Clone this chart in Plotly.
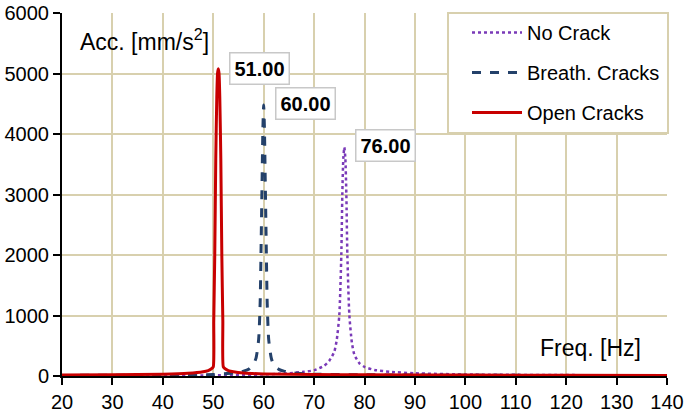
import plotly.graph_objects as go

# ---- data ----
freq_open = [20, 30, 40, 45, 48, 49, 49.5, 50, 50.1, 50.3, 50.5, 50.7, 50.85, 51, 51.15, 51.3, 51.5, 51.7, 51.9, 52, 52.5, 53, 54, 56, 60, 70, 80, 100, 120, 140]
acc_open = [15, 20, 30, 45, 70, 90, 110, 150, 900, 2000, 3600, 4600, 5000, 5080, 5000, 4600, 3600, 2000, 900, 150, 110, 90, 70, 50, 35, 25, 20, 15, 12, 10]

freq_breath = [20, 40, 50, 54, 56, 57, 58, 58.5, 59, 59.3, 59.5, 59.7, 59.85, 60, 60.15, 60.3, 60.5, 60.7, 61, 61.5, 62, 63, 64, 66, 70, 80, 100, 140]
acc_breath = [10, 15, 25, 50, 80, 110, 200, 300, 600, 1200, 2200, 3300, 4100, 4480, 4100, 3300, 2200, 1200, 600, 300, 180, 110, 80, 50, 30, 20, 12, 8]

freq_none = [20, 50, 60, 65, 68, 70, 72, 73, 74, 74.5, 75, 75.4, 75.6, 75.8, 76, 76.2, 76.4, 76.6, 77, 77.5, 78, 79, 80, 82, 85, 90, 100, 120, 140]
acc_none = [5, 10, 25, 45, 70, 95, 170, 250, 400, 600, 1000, 2000, 3000, 3600, 3780, 3600, 3000, 2000, 1000, 550, 350, 210, 150, 100, 70, 45, 25, 15, 10]

peak_labels = ["51.00", "60.00", "76.00"]
label_x = [53.2, 62.2, 78.2]
label_y = [5090, 4496, 3802]

x_ticks = list(range(20, 141, 10))
y_ticks = list(range(0, 6001, 1000))

GRID = "#d8d0ae"
FONT = "Arial, Liberation Sans, sans-serif"

fig = go.Figure()
fig.add_trace(go.Scatter(x=freq_none, y=acc_none, mode="lines", name="No Crack",
                         line=dict(color="#7a3ab8", width=2.5, dash="dot", shape="spline", smoothing=0.6),
                         legendgroup="a"))
fig.add_trace(go.Scatter(x=freq_breath, y=acc_breath, mode="lines", name="Breath. Cracks",
                         line=dict(color="#24416a", width=3, dash="dash", shape="spline", smoothing=0.6),
                         legendgroup="b"))
fig.add_trace(go.Scatter(x=freq_open, y=acc_open, mode="lines", name="Open Cracks",
                         line=dict(color="#c80000", width=3, shape="spline", smoothing=0.5),
                         legendgroup="c"))

for t, xx, yy in zip(peak_labels, label_x, label_y):
    fig.add_annotation(x=xx, y=yy, xref="x", yref="y", text="<b>%s</b>" % t,
                       showarrow=False, xanchor="left", yanchor="middle",
                       font=dict(family=FONT, size=20, color="black"),
                       bgcolor="white", bordercolor="#c8c8c8", borderwidth=1.5,
                       borderpad=4)

fig.add_annotation(x=(78 - 62) / 605, y=(376 - 40) / 363, xref="paper", yref="paper",
                   text="Acc. [mm/s<sup>2</sup>]", showarrow=False,
                   xanchor="left", yanchor="middle",
                   font=dict(family=FONT, size=23, color="black"))
fig.add_annotation(x=(643 - 62) / 605, y=(376 - 348) / 363, xref="paper", yref="paper",
                   text="Freq. [Hz]", showarrow=False,
                   xanchor="right", yanchor="middle",
                   font=dict(family=FONT, size=23, color="black"))

# legend frame
fig.add_shape(type="rect", xref="paper", yref="paper",
              x0=(448 - 62) / 605, x1=(668 - 62) / 605,
              y0=(376 - 133) / 363, y1=(376 - 13) / 363,
              fillcolor="white", line=dict(color=GRID, width=2), layer="above")

fig.update_layout(
    width=685, height=413,
    margin=dict(l=62, r=18, t=13, b=37, autoexpand=False),
    plot_bgcolor="white", paper_bgcolor="white",
    font=dict(family=FONT, size=20, color="black"),
    legend=dict(x=(467 - 62) / 605, y=1.0, xanchor="left", yanchor="top",
                bgcolor="rgba(0,0,0,0)", borderwidth=0,
                font=dict(size=20), tracegroupgap=11, itemwidth=50),
    showlegend=True,
)
fig.update_xaxes(range=[20, 140], tickvals=x_ticks, showgrid=True, gridcolor=GRID, gridwidth=2,
                 showline=True, linecolor="black", linewidth=2, ticks="outside", ticklen=7,
                 tickcolor="black", tickwidth=2, zeroline=False, automargin=False,
                 tickfont=dict(size=20), ticklabeloverflow="allow")
fig.update_yaxes(range=[0, 6000], tickvals=y_ticks, showgrid=True, gridcolor=GRID, gridwidth=2,
                 showline=True, linecolor="black", linewidth=2, ticks="outside", ticklen=7,
                 tickcolor="black", tickwidth=2, zeroline=False, automargin=False,
                 tickfont=dict(size=20), ticklabeloverflow="allow")

fig.write_html("out.html", config={"displayModeBar": False},
               post_script="document.body.style.margin='0px';")
